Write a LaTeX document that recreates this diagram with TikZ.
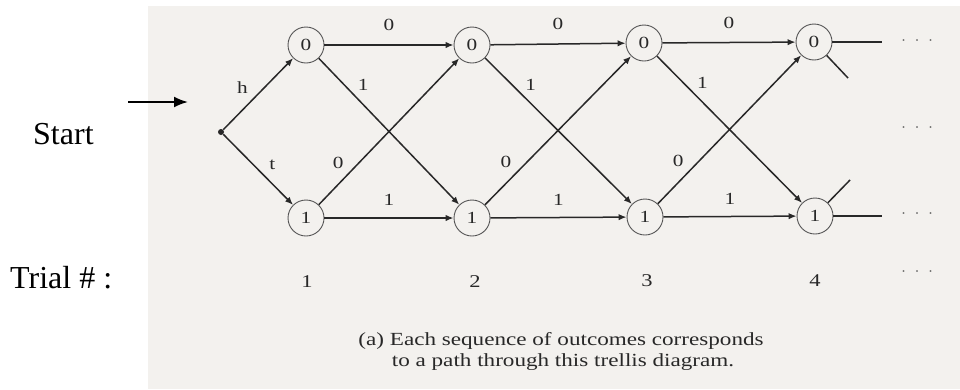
\documentclass[tikz,border=0pt]{standalone}
\usepackage{fontspec}
\setmainfont{Liberation Serif}
\newfontfamily\scanfont[FakeStretch=1.25]{Liberation Serif}
\usetikzlibrary{arrows.meta,calc}
\definecolor{bg}{RGB}{243,241,238}
\definecolor{ink}{RGB}{40,40,40}
\definecolor{circ}{RGB}{85,85,85}
\begin{document}
\begin{tikzpicture}[x=1pt,y=-1pt,
  state/.style={circle,draw=circ,line width=0.9pt,minimum size=36pt,inner sep=0pt,font=\scanfont\fontsize{17}{17}\selectfont,text=ink},
  tr/.style={draw=ink,line width=1.5pt,-{Latex[length=8pt,width=6.5pt]}},
  stub/.style={draw=ink,line width=1.5pt},
  lab/.style={font=\scanfont\fontsize{17}{17}\selectfont,text=ink,inner sep=0pt},
  trialno/.style={font=\scanfont\fontsize{18}{18}\selectfont,text=ink,inner sep=0pt,anchor=base},
  big/.style={font=\fontsize{32}{32}\selectfont,text=black,inner sep=0pt,anchor=base west},
  captext/.style={font=\scanfont\fontsize{18.5}{18.5}\selectfont,text=ink,inner sep=0pt,anchor=base},
  dots/.style={font=\fontsize{15}{15}\selectfont,text=ink!75,inner sep=0pt}]
\useasboundingbox (0,0) rectangle (960,389);
\fill[bg] (148,6) rectangle (960,389);
% left texts and start arrow
\node[big] (start) at (33,144) {Start};
\node[big] (trial) at (10,288) {Trial \# :};
\coordinate (sa) at (128,102);
\coordinate (sb) at (188,102);
\draw[line width=2pt,-{Latex[length=14pt,width=11pt]}] (sa) -- (sb);
% trellis nodes
\node[circle,fill=ink,inner sep=0pt,minimum size=6pt] (s) at (221,132) {};
\node[state] (a0) at (306,45) {0};
\node[state] (a1) at (472,45) {0};
\node[state] (a2) at (644,43) {0};
\node[state] (a3) at (814,42) {0};
\node[state] (b0) at (306,218) {1};
\node[state] (b1) at (472,218) {1};
\node[state] (b2) at (645,217) {1};
\node[state] (b3) at (815,216) {1};
% start branches
\draw[tr] (s) -- (a0);
\draw[tr] (s) -- (b0);
\node[lab] (lh) at ($(s)!0.51!(a0)+(-22,0)$) {h};
\node[lab] (lt) at ($(s)!0.38!(b0)+(19,0)$) {t};
% transitions
\foreach \i/\j in {0/1,1/2,2/3}{
  \draw[tr] (a\i) -- (a\j);
  \draw[tr] (a\i) -- (b\j);
  \draw[tr] (b\i) -- (a\j);
  \draw[tr] (b\i) -- (b\j);
  \node[lab] (ta\i) at ($(a\i)!0.5!(a\j)+(0,-20)$) {0};
  \node[lab] (da\i) at ($(a\i)!0.23!(b\j)+(19,0)$) {1};
  \node[lab] (ub\i) at ($(b\i)!0.32!(a\j)+(-21,0)$) {0};
  \node[lab] (tb\i) at ($(b\i)!0.5!(b\j)+(0,-18)$) {1};
}
% continuation stubs
\coordinate (ea) at (882,42);
\coordinate (eb) at (882,216);
\coordinate (da) at (848,78);
\coordinate (db) at (850,180);
\draw[stub] (a3) -- (ea);
\draw[stub] (a3) -- (da);
\draw[stub] (b3) -- (eb);
\draw[stub] (b3) -- (db);
% dots
\node[dots] (d1) at (917,43) {\textperiodcentered\hspace{8.5pt}\textperiodcentered\hspace{8.5pt}\textperiodcentered};
\node[dots] (d2) at (917,130) {\textperiodcentered\hspace{8.5pt}\textperiodcentered\hspace{8.5pt}\textperiodcentered};
\node[dots] (d3) at (917,216) {\textperiodcentered\hspace{8.5pt}\textperiodcentered\hspace{8.5pt}\textperiodcentered};
\node[dots] (d4) at (917,274) {\textperiodcentered\hspace{8.5pt}\textperiodcentered\hspace{8.5pt}\textperiodcentered};
% trial numbers
\node[trialno] (n1) at (307,287) {1};
\node[trialno] (n2) at (475,287) {2};
\node[trialno] (n3) at (647,286) {3};
\node[trialno] (n4) at (815,286) {4};
% caption
\node[captext] (c1) at (561,345) {(a) Each sequence of outcomes corresponds};
\node[captext] (c2) at (563,366) {to a path through this trellis diagram.};
\end{tikzpicture}
\end{document}
